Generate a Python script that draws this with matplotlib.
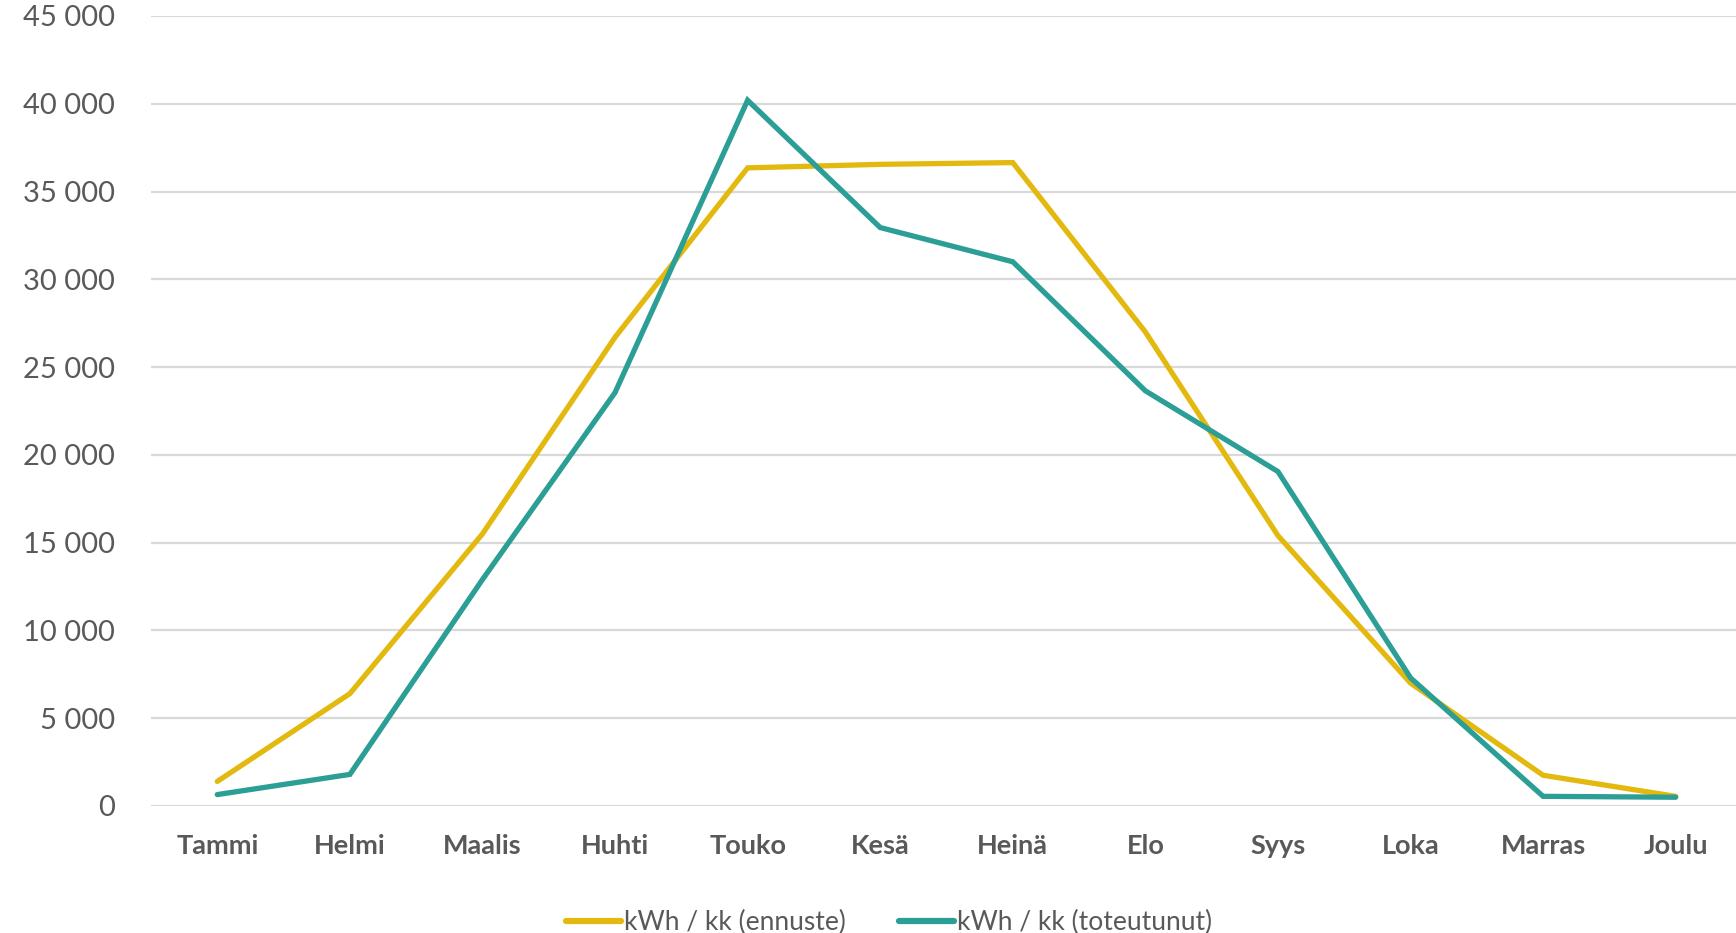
import matplotlib
matplotlib.use("Agg")
import matplotlib.pyplot as plt
from matplotlib.ticker import FuncFormatter

months = ["Tammi", "Helmi", "Maalis", "Huhti", "Touko", "Kesä", "Heinä",
          "Elo", "Syys", "Loka", "Marras", "Joulu"]
ennuste = [1400, 6400, 15500, 26700, 36350, 36550, 36650, 27000, 15400, 7000, 1750, 550]
toteutunut = [650, 1800, 12900, 23550, 40200, 32950, 31000, 23650, 19050, 7300, 550, 500]
series_labels = ["kWh / kk (ennuste)", "kWh / kk (toteutunut)"]
yticks = list(range(0, 45001, 5000))

plt.rcParams['font.family'] = ['Lato', 'DejaVu Sans']
text_color = "#595959"

fig = plt.figure(figsize=(17.36, 9.33), dpi=100)
ax = fig.add_axes([151/1736, 1-806/933, 1591/1736, (806-16)/933])

x = list(range(len(months)))
ax.plot(x, ennuste, color="#E3B90F", lw=3.8, solid_capstyle='round', solid_joinstyle='miter', label=series_labels[0])
ax.plot(x, toteutunut, color="#2B9E96", lw=3.8, solid_capstyle='round', solid_joinstyle='miter', label=series_labels[1])

ax.set_xlim(-0.5, len(months) - 0.5)
ax.set_ylim(0, 45000)
ax.set_yticks(yticks)
ax.yaxis.set_major_formatter(FuncFormatter(lambda v, p: f"{int(v):,}".replace(",", " ")))
ax.set_xticks(x)
ax.set_xticklabels(months, fontweight='bold')
ax.tick_params(axis='y', length=0, pad=26, labelsize=21, labelcolor=text_color)
ax.tick_params(axis='x', length=0, pad=20, labelsize=19.5, labelcolor=text_color)
ax.grid(axis='y', color="#D9D9D9", lw=1.6)
ax.set_axisbelow(True)
for s in ax.spines.values():
    s.set_visible(False)

leg = fig.legend(loc='lower center', bbox_to_anchor=(0.512, -0.028), ncol=2, frameon=False,
                 fontsize=19, handlelength=2.1, handletextpad=0.1, columnspacing=2.0)
for t in leg.get_texts():
    t.set_color(text_color)
for l in leg.get_lines():
    l.set_linewidth(4.5)

fig.savefig("out.png", dpi=100)
